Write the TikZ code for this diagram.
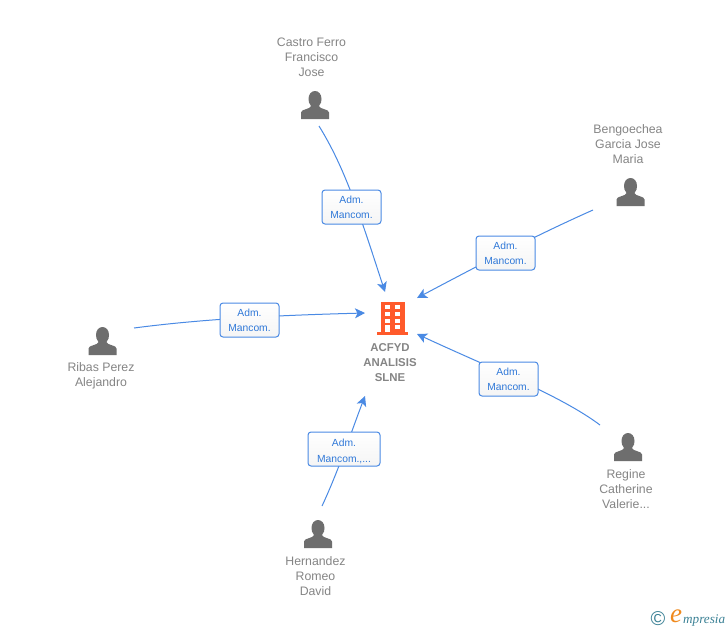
\documentclass[tikz,border=0pt]{standalone}
\usepackage{fontspec}
\setmainfont{Liberation Sans}
\newfontfamily\logofont{Liberation Serif}
\usetikzlibrary{arrows.meta}
\definecolor{txt}{HTML}{858585}
\definecolor{ico}{HTML}{6E6E6E}
\definecolor{edgeblue}{HTML}{4A8AE4}
\definecolor{labtxt}{HTML}{2F78D8}
\definecolor{bld}{HTML}{FF5A2B}
\definecolor{teal}{HTML}{3C8296}
\definecolor{orng}{HTML}{F08A1E}
\tikzset{
  x=1pt,y=-1pt,
  who/.style={font=\fontsize{12.3}{15}\selectfont,text=txt,align=center,inner sep=0pt},
  company/.style={font=\fontsize{11.4}{15}\selectfont\bfseries,text=txt,align=center,inner sep=0pt},
  rel/.style={draw=edgeblue,line width=1pt,rounded corners=3pt,top color=white,bottom color=white!96!black,
    font=\fontsize{10.3}{15}\selectfont,text=labtxt,align=center,inner sep=0pt,minimum height=34pt},
  conn/.style={draw=edgeblue,line width=1pt},
  arr/.style={conn,-{Stealth[length=10pt,width=10pt,inset=2.5pt]}},
  personicon/.pic={
    \fill[ico] (-14,14) -- (-14,7.5) .. controls (-14,4) and (-5,4.5) .. (-4,1) 
      .. controls (-6,-1) and (-6.5,-4) .. (-6.5,-6) .. controls (-6.5,-11) and (-3.5,-14) .. (0,-14)
      .. controls (3.5,-14) and (6.5,-11) .. (6.5,-6) .. controls (6.5,-4) and (6,-1) .. (4,1)
      .. controls (5,4.5) and (14,4) .. (14,7.5) -- (14,14) -- cycle;
  }
}
\begin{document}
\begin{tikzpicture}
\useasboundingbox (0,0) rectangle (728,630);
\fill[white] (0,0) rectangle (728,630);

% end points of connectors
\coordinate (c1) at (319,126);
\coordinate (c2) at (593,210);
\coordinate (c3) at (600,425);
\coordinate (c4) at (322,506);
\coordinate (c5) at (134,328);
\coordinate (t1) at (385,292);
\coordinate (t2) at (417,298);
\coordinate (t3) at (417,334);
\coordinate (t4) at (365,396);
\coordinate (t5) at (365,313);

% connectors
\draw[arr] (c1) .. controls (345,168) and (360,215) .. (t1);
\draw[arr] (c2) .. controls (530,238) and (470,270) .. (t2);
\draw[arr] (c3) .. controls (560,395) and (490,368) .. (t3);
\draw[arr] (c4) .. controls (338,472) and (352,430) .. (t4);
\draw[arr] (c5) .. controls (210,318) and (290,315) .. (t5);

% relation labels
\node[rel,minimum width=59pt] (l1) at (351.5,207) {Adm.\\Mancom.};
\node[rel,minimum width=59pt] (l2) at (505.5,253) {Adm.\\Mancom.};
\node[rel,minimum width=59pt] (l3) at (508.5,379) {Adm.\\Mancom.};
\node[rel,minimum width=72pt] (l4) at (344,449) {\rule{0pt}{11pt}Adm.\\[1pt]\smash{Mancom.,...}};
\node[rel,minimum width=59pt] (l5) at (249.5,320) {Adm.\\Mancom.};

% people
\pic at (315,105) {personicon};
\pic at (630.5,192) {personicon};
\pic at (628,447) {personicon};
\pic at (318,534) {personicon};
\pic at (102.5,341) {personicon};

\node[who] (n1) at (311.5,57) {Castro Ferro\\Francisco\\Jose};
\node[who] (n2) at (628,144) {Bengoechea\\Garcia Jose\\Maria};
\node[who] (n3) at (626,489) {Regine\\Catherine\\Valerie...};
\node[who] (n4) at (315.5,576) {Hernandez\\Romeo\\David};
\node[who] (n5) at (101,376) {Ribas Perez\\Alejandro};

% company
\fill[bld] (381,302) rectangle (404.5,332);
\fill[bld] (377,332) rectangle (408,335);
\foreach \yy in {305,312,318.5}{
  \fill[white] (385,\yy) rectangle (389.5,\yy+4);
  \fill[white] (395,\yy) rectangle (399.5,\yy+4);
}
\fill[white] (385,325) rectangle (389.5,332);
\fill[white] (395,325) rectangle (399.5,329);
\node[company] (co) at (390,363) {ACFYD\\ANALISIS\\SLNE};

% logo
\node[inner sep=0pt,text=teal,font=\fontsize{20}{20}\selectfont] (copy) at (658,619) {©};
\node[inner sep=0pt,text=orng,font=\logofont\itshape\fontsize{27}{27}\selectfont] (e) at (676,616) {e};
\node[inner sep=0pt,text=teal,font=\logofont\itshape\fontsize{13.2}{13}\selectfont,anchor=base west] (brand) at (683,623) {mpresia};
\end{tikzpicture}
\end{document}
